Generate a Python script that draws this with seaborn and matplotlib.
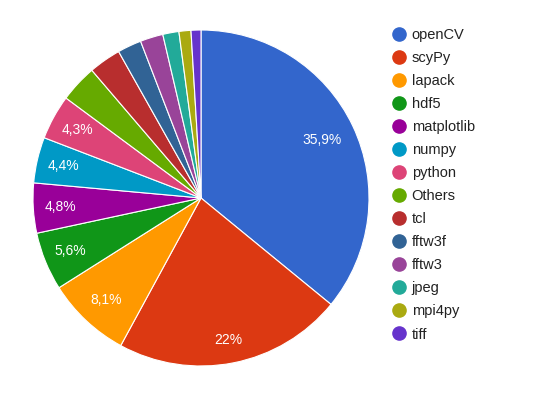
import matplotlib
matplotlib.use('Agg')
import matplotlib.pyplot as plt
import seaborn as sns
import numpy as np
from matplotlib.lines import Line2D

libs = ['openCV', 'scyPy', 'lapack', 'hdf5', 'matplotlib', 'numpy', 'python',
        'Others', 'tcl', 'fftw3f', 'fftw3', 'jpeg', 'mpi4py', 'tiff']
share = [35.9, 22.0, 8.1, 5.6, 4.8, 4.4, 4.3, 3.6, 3.1, 2.3, 2.2, 1.55, 1.15, 0.95]
colors = ['#3366cc', '#dc3912', '#ff9900', '#109618', '#990099', '#0099c6', '#dd4477',
          '#66aa00', '#b82e2e', '#316395', '#994499', '#22aa99', '#aaaa11', '#6633cc']

sns.set_theme(style='white')
plt.rcParams['font.family'] = ['Liberation Sans', 'DejaVu Sans']
pal = sns.color_palette(colors)

fig = plt.figure(figsize=(5.37, 3.99), dpi=100)
ax = fig.add_axes([33/537, 33/399, 336/537, 336/399])

def lab(p):
    if p < 4:
        return ''
    s = ('%.1f' % p).replace('.', ',')
    if s.endswith(',0'):
        s = s[:-2]
    return s + '%'

wedges, texts, autotexts = ax.pie(share, colors=pal, startangle=90, counterclock=False,
                                  autopct=lab, pctdistance=0.8,
                                  wedgeprops=dict(edgecolor='white', linewidth=0.8),
                                  textprops=dict(color='white', fontsize=10))
# google-ish label radius: slightly further out for the smaller/lower slices
rad = [0.8, 0.86, 0.83, 0.84, 0.84, 0.84, 0.84]
for w, t, r in zip(wedges, autotexts, rad):
    a = np.deg2rad((w.theta1 + w.theta2) / 2)
    t.set_position((r * np.cos(a), r * np.sin(a)))

ax.set_xlim(-1, 1)
ax.set_ylim(-1, 1)
ax.set_aspect('equal')
ax.axis('off')

handles = [Line2D([], [], marker='o', linestyle='none', markersize=9.5,
                  markerfacecolor=c, markeredgecolor=c) for c in colors]
leg = fig.legend(handles, libs, loc='upper left', bbox_to_anchor=(392/537, 1 - 28/399),
                 frameon=False, fontsize=10.5, handletextpad=0.35, labelspacing=0.62,
                 handlelength=1.0, borderaxespad=0, borderpad=0)
for t in leg.get_texts():
    t.set_color('#222222')

fig.savefig('out.png', dpi=100)
